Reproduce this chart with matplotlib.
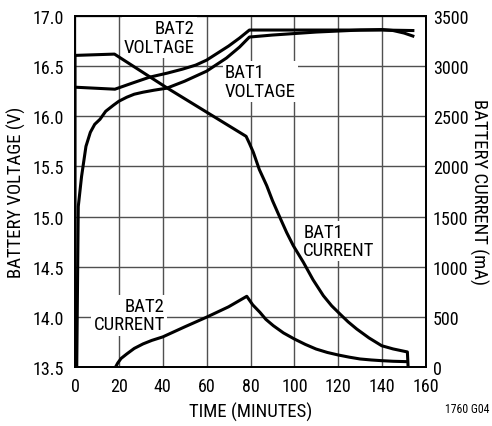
import matplotlib
matplotlib.use("Agg")
import matplotlib.pyplot as plt

plt.rcParams['font.family'] = ['Roboto Condensed', 'Liberation Sans', 'DejaVu Sans']

# voltages (V) vs time (minutes)
bat1_v_t = [0.8, 1.5, 3, 5, 7, 9, 11.4, 14, 17.5, 20, 23.6, 27, 31, 36, 41.8, 50, 60, 69, 75,
            79.5, 90, 100, 110, 120, 130, 140, 145, 150, 154]
bat1_v = [13.5, 15.1, 15.4, 15.7, 15.84, 15.92, 15.97, 16.05, 16.11, 16.15, 16.19, 16.22, 16.24,
          16.26, 16.28, 16.35, 16.45, 16.58, 16.69, 16.79, 16.81, 16.825, 16.84, 16.85, 16.86,
          16.865, 16.855, 16.83, 16.80]
bat2_v_t = [0, 18.2, 26, 34, 42, 49, 55, 60, 65, 70, 75, 79.5, 100, 120, 140, 154]
bat2_v = [16.29, 16.27, 16.33, 16.39, 16.43, 16.47, 16.51, 16.56, 16.63, 16.70, 16.78, 16.86,
          16.86, 16.86, 16.86, 16.855]

# currents (mA) vs time (minutes)
bat1_i_t = [0, 0, 18, 41.8, 78, 79.5, 81.3, 84, 87.4, 90, 93.5, 96.5, 99.5, 104.1, 108.5,
            113.2, 117, 120.8, 124.5, 128.4, 134, 139.8, 145, 151.5, 151.8]
bat1_i = [0, 3107, 3120, 2785, 2300, 2230, 2140, 1970, 1808, 1660, 1486, 1340, 1210, 1044, 870,
          711, 610, 528, 450, 379, 290, 212, 180, 150, 15]
bat2_i_t = [18.5, 19.5, 21, 23.6, 27, 31, 35, 40, 50, 60, 70, 78.3, 81, 84.3, 87, 90.4, 95,
            100, 105, 109.9, 115, 119.9, 125, 129.9, 135, 139.8, 145, 151.5]
bat2_i = [0, 40, 85, 130, 185, 230, 265, 300, 400, 497, 600, 705, 620, 545, 475, 412, 340,
          279, 225, 179, 145, 120, 98, 80, 70, 63, 57, 53]

x_ticks = [0, 20, 40, 60, 80, 100, 120, 140, 160]
v_ticks = [13.5, 14.0, 14.5, 15.0, 15.5, 16.0, 16.5, 17.0]
i_ticks = [0, 500, 1000, 1500, 2000, 2500, 3000, 3500]

fs = 13.5
fig = plt.figure(figsize=(4.92, 4.27), dpi=100)
ax = fig.add_axes([0.1524, 0.1382, 0.7135, 0.822])
ax2 = ax.twinx()

ax.set_xlim(0, 160)
ax.set_ylim(13.5, 17.0)
ax2.set_ylim(0, 3500)
ax.set_xticks(x_ticks)
ax.set_yticks(v_ticks)
ax.set_yticklabels(['%.1f' % v for v in v_ticks])
ax2.set_yticks(i_ticks)
ax.grid(True, color='#505050', linewidth=1.0)
ax.set_axisbelow(True)

for a in (ax, ax2):
    a.tick_params(length=0, labelsize=13)
    for s in a.spines.values():
        s.set_linewidth(1.3)
        s.set_color('black')
ax.tick_params(axis='y', pad=8)
ax.tick_params(axis='x', pad=7)
ax2.tick_params(axis='y', pad=5)

lw = 2.2
ax.plot(bat1_v_t, bat1_v, color='black', lw=lw, zorder=5)
ax.plot(bat2_v_t, bat2_v, color='black', lw=lw, zorder=5)
ax2.plot(bat1_i_t, bat1_i, color='black', lw=lw)
ax2.plot(bat2_i_t, bat2_i, color='black', lw=lw)

box = dict(facecolor='white', edgecolor='none', pad=1.5)
ax.text(54.7, 16.97, 'BAT2\nVOLTAGE', ha='right', va='top', ma='right', fontsize=fs,
        linespacing=1.05, bbox=box, zorder=3)
ax.text(68.4, 16.53, 'BAT1\nVOLTAGE', ha='left', va='top', ma='left', fontsize=fs,
        linespacing=1.05, bbox=box, zorder=3)
ax.text(41.0, 14.2, 'BAT2\nCURRENT', ha='right', va='top', ma='right', fontsize=fs,
        linespacing=1.05, bbox=box, zorder=3)
ax.text(104.0, 14.94, 'BAT1\nCURRENT', ha='left', va='top', ma='left', fontsize=fs,
        linespacing=1.05, bbox=box, zorder=3)

ax.set_xlabel('TIME (MINUTES)', fontsize=fs, labelpad=5)
ax.set_ylabel('BATTERY VOLTAGE (V)', fontsize=fs, labelpad=5)
ax2.set_ylabel('BATTERY CURRENT (mA)', fontsize=fs, rotation=270, labelpad=14)

fig.text(0.995, 0.04, '1760 G04', ha='right', va='center', fontsize=8.5)

fig.savefig('out.png', dpi=100)
